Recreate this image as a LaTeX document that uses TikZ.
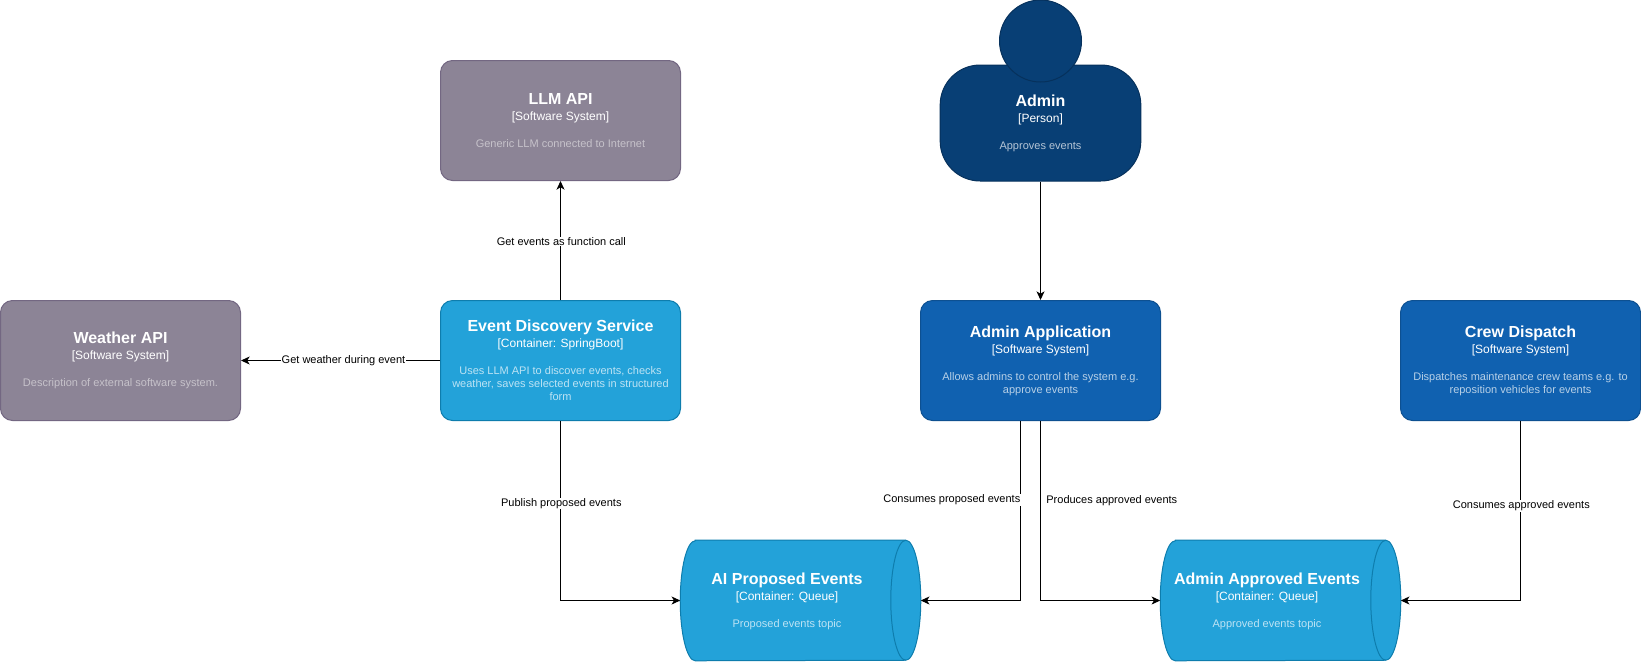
\documentclass[tikz,border=0pt]{standalone}
\usepackage{fontspec}
\setmainfont{Liberation Sans}
\usetikzlibrary{arrows.meta,calc}
\definecolor{extfill}{HTML}{8C8496}
\definecolor{extline}{HTML}{736782}
\definecolor{contfill}{HTML}{23A2D9}
\definecolor{contline}{HTML}{0E7DAD}
\definecolor{sysfill}{HTML}{1061B0}
\definecolor{sysline}{HTML}{0D5091}
\definecolor{perfill}{HTML}{083F75}
\definecolor{perline}{HTML}{06315C}
\colorlet{extdesc}{white!50!extfill}
\colorlet{contdesc}{white!70!contfill}
\colorlet{sysdesc}{white!70!sysfill}
\colorlet{perdesc}{white!70!perfill}
\newcommand{\blocktext}[4]{{\fontsize{12}{14}\bfseries\selectfont #1\par}\vspace{1.2pt}{\fontsize{9}{11}\selectfont #2\par}\vspace{10.5pt}{\fontsize{8.25}{9.75}\selectfont\color{#4}#3\par}}
\tikzset{
  boxbase/.style={rectangle,rounded corners=9pt,line width=0.75pt,minimum width=180pt,minimum height=90pt,inner sep=0pt,align=flush center,text=white,text width=172pt},
  extbox/.style={boxbase,fill=extfill,draw=extline},
  contbox/.style={boxbase,fill=contfill,draw=contline},
  sysbox/.style={boxbase,fill=sysfill,draw=sysline},
  perbody/.style={rectangle,rounded corners=30pt,line width=0.75pt,minimum width=150.5pt,minimum height=87pt,inner sep=0pt,fill=perfill,draw=perline},
  perhead/.style={circle,line width=0.75pt,minimum size=61.5pt,inner sep=0pt,fill=perfill,draw=perline},
  pertext/.style={align=flush center,text=white,inner sep=0pt,text width=140pt},
  quframe/.style={rectangle,minimum width=180pt,minimum height=90pt,inner sep=0pt},
  qushape/.style={fill=contfill,draw=contline,line width=0.75pt},
  qutext/.style={align=flush center,text=white,inner sep=0pt,text width=150pt},
  conn/.style={draw=black,line width=0.75pt,-{Stealth[length=6.5pt,width=6pt,inset=1.8pt]}},
  edgelabel/.style={fill=white,inner xsep=0.5pt,inner ysep=0.5pt,xshift=0.6pt,font=\fontsize{8.25}{10}\selectfont,text=black}
}
\newcommand{\queue}[1]{%
  \draw[qushape] ($(#1.north west)+(15,0)$) -- ($(#1.north east)+(-15,0)$)
    arc[start angle=90,end angle=-90,x radius=11.25pt,y radius=45pt]
    -- ($(#1.south west)+(15,0)$)
    arc[start angle=270,end angle=90,x radius=11.25pt,y radius=45pt] -- cycle;
  \draw[draw=contline,line width=0.75pt] ($(#1.north east)+(-15,0)$)
    arc[start angle=90,end angle=270,x radius=11.25pt,y radius=45pt];
}
\begin{document}
\begin{tikzpicture}[x=0.75pt,y=-0.75pt]
\useasboundingbox (0,0) rectangle (1641,661);
% boxes
\node[extbox] (llm) at (560.5,120.5) {\blocktext{LLM API}{[Software System]}{Generic LLM connected to Internet}{extdesc}};
\node[extbox] (weather) at (120.5,360.5) {\blocktext{Weather API}{[Software System]}{Description of external software system.}{extdesc}};
\node[contbox] (eds) at (560.5,360.5) {\blocktext{Event Discovery Service}{[Container: SpringBoot]}{Uses LLM API to discover events, checks\\weather, saves selected events in structured\\form}{contdesc}};
\node[sysbox] (app) at (1040.5,360.5) {\blocktext{Admin Application}{[Software System]}{Allows admins to control the system e.g.\\approve events}{sysdesc}};
\node[sysbox] (crew) at (1520.5,360.5) {\blocktext{Crew Dispatch}{[Software System]}{Dispatches maintenance crew teams e.g. to\\reposition vehicles for events}{sysdesc}};
% person
\node[perbody] (body) at (1040.5,123) {};
\node[perhead] (head) at (1040.5,41) {};
\node[pertext] (ptext) at (1040.5,123.5) {\blocktext{Admin}{[Person]}{Approves events}{perdesc}};
% queues
\node[quframe] (q1) at (800.5,600.5) {};
\queue{q1}
\node[qutext] (q1t) at (787,601.5) {\blocktext{AI Proposed Events}{[Container: Queue]}{Proposed events topic}{contdesc}};
\node[quframe] (q2) at (1280.5,600.5) {};
\queue{q2}
\node[qutext] (q2t) at (1267,601.5) {\blocktext{Admin Approved Events}{[Container: Queue]}{Approved events topic}{contdesc}};
% connectors
\draw[conn] (body.south) -- (app.north);
\draw[conn] (eds.north) -- node[edgelabel,pos=0.49] {Get events as function call} (llm.south);
\draw[conn] (eds.west) -- node[edgelabel,pos=0.485,xshift=-0.6pt] {Get weather during event} (weather.east);
\draw[conn] (eds.south) |- node[edgelabel,pos=0.23] {Publish proposed events} (q1.west);
\coordinate (appl) at ($(app.south)+(-20,0)$);
\draw[conn] (appl) |- (q1.east);
\draw[conn] (app.south) |- (q2.west);
\draw[conn] (crew.south) |- node[edgelabel,pos=0.237] {Consumes approved events} (q2.east);
\node[edgelabel] (l1) at (951,500) {Consumes proposed events};
\node[edgelabel] (l2) at (1111,501) {Produces approved events};
\end{tikzpicture}
\end{document}
